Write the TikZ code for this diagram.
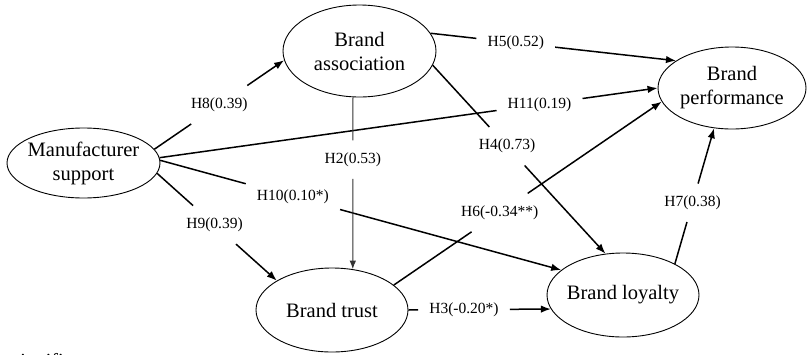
\documentclass[tikz,border=0pt]{standalone}
\usepackage{fontspec}
\setmainfont{Liberation Serif}
\usetikzlibrary{arrows.meta,shapes.geometric}
\begin{document}
\begin{tikzpicture}[x=1pt,y=-1pt,
  construct/.style={ellipse,draw,line width=0.9pt,inner sep=-6pt,align=center,
    font=\fontsize{20.5}{24}\selectfont},
  lbl/.style={inner xsep=11pt,inner ysep=12pt,font=\fontsize{15.5}{18}\selectfont},
  conn/.style={line width=1.5pt},
  arr/.style={conn,-{Latex[length=10pt,width=7.5pt]}},
  thinconn/.style={line width=1pt,black!80},
  thinarr/.style={thinconn,-{Latex[length=8.5pt,width=6.5pt]}}
]
\useasboundingbox (0,0) rectangle (807,354);
\clip (0,0) rectangle (807,354);

% constructs
\node[construct,minimum width=153pt,minimum height=70pt] (ms) at (83.5,163) {Manufacturer\\support};
\node[construct,minimum width=153pt,minimum height=92pt] (ba) at (359.5,51) {Brand\\association};
\node[construct,minimum width=148pt,minimum height=82pt] (bp) at (732,88) {Brand\\performance};
\node[construct,minimum width=152pt,minimum height=84pt] (bt) at (332,310) {Brand trust};
\node[construct,minimum width=152pt,minimum height=84pt] (bl) at (623,295) {Brand loyalty};

% H8
\path (ms.11) -- node[lbl,pos=0.5] (l8) {H8(0.39)} (ba.187);
\draw[conn] (ms.11) -- (l8);
\draw[arr] (l8) -- (ba.187);
% H11
\path (ms.4) -- node[lbl,pos=0.763] (l11) {H11(0.19)} (bp.180);
\draw[conn] (ms.4) -- (l11);
\draw[arr] (l11) -- (bp.180);
% H10
\path (ms.2) -- node[lbl,pos=0.331] (l10) {H10(0.10*)} (bl.158);
\draw[conn] (ms.2) -- (l10);
\draw[arr] (l10) -- (bl.158);
% H9
\path (ms.352) -- node[lbl,pos=0.48] (l9) {H9(0.39)} (bt.152);
\draw[conn] (ms.352) -- (l9);
\draw[arr] (l9) -- (bt.152);
% H2
\path (ba.262) -- node[lbl,pos=0.363] (l2) {H2(0.53)} (bt.63);
\draw[thinconn] (ba.262) -- (l2);
\draw[thinarr] (l2) -- (bt.63);
% H5
\path (ba.14) -- node[lbl,pos=0.347] (l5) {H5(0.52)} (bp.154);
\draw[conn] (ba.14) -- (l5);
\draw[arr] (l5) -- (bp.154);
% H4
\path (ba.349) -- node[lbl,pos=0.43] (l4) {H4(0.73)} (bl.113);
\draw[conn] (ba.349) -- (l4);
\draw[arr] (l4) -- (bl.113);
% H6
\path (bt.22) -- node[lbl,pos=0.395] (l6) {H6(-0.34**)} (bp.191);
\draw[conn] (bt.22) -- (l6);
\draw[arr] (l6) -- (bp.191);
% H7
\path (bl.31) -- node[lbl,pos=0.45] (l7) {H7(0.38)} (bp.246);
\draw[conn] (bl.31) -- (l7);
\draw[arr] (l7) -- (bp.246);
% H3
\path (bt.0) -- node[lbl,pos=0.39] (l3) {H3(-0.20*)} (bl.191);
\draw[conn] (bt.0) -- (l3);
\draw[arr] (l3) -- (bl.191);

% note at the bottom edge, cut off as in the reference
\node[anchor=base west,inner sep=0pt,font=\fontsize{20}{24}\selectfont] (note) at (12.4,367) {significant};
\end{tikzpicture}
\end{document}
